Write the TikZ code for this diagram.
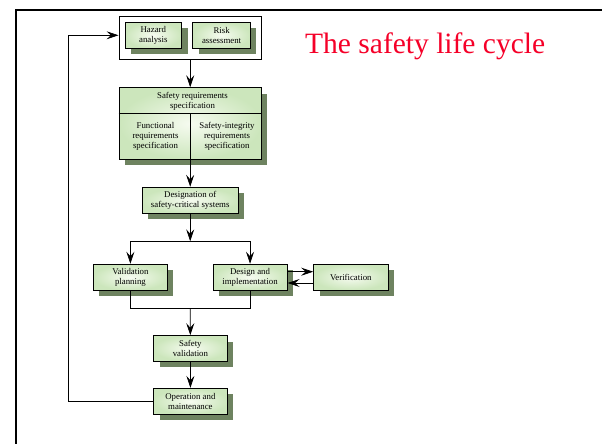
\documentclass[tikz,border=0pt]{standalone}
\usepackage{fontspec}
\setmainfont{Liberation Serif}
\usepackage{xcolor}
\usetikzlibrary{arrows.meta}
\usetikzlibrary{shadows, math}
\definecolor{boxgreen}{RGB}{204,230,188}
\definecolor{boxlight}{RGB}{246,251,240}
\definecolor{shadegreen}{RGB}{110,131,96}
\definecolor{titlered}{RGB}{245,0,40}
\newcommand{\boxfont}{\fontsize{8.8}{10}\selectfont}

\tikzset{
  stage/.style={draw, line width=0.9pt, shading=radial, inner color=boxlight, outer color=boxgreen,
    drop shadow={shadow xshift=6pt, shadow yshift=-6pt, fill=shadegreen, opacity=1},
    align=center, font=\boxfont, inner sep=1pt, minimum height=26pt},
  flow/.style={-{Stealth[length=12pt,width=8pt,inset=4.5pt]}, line width=0.7pt},
  wire/.style={line width=0.7pt},
}

\begin{document}
\begin{tikzpicture}[x=1pt, y=-1pt]
\tikzmath{
\mx=190.2;
\vy=277.2;
}
\useasboundingbox (0,0) rectangle (602,444);
\draw[line width=2.3pt] (16.2,460) -- (16.2,10) -- (620,10);

\node[anchor=base west, inner sep=0, text=titlered, font=\fontsize{29.5}{34}\selectfont] (title) at (305,54) {The safety life cycle};

% analysis group
\node[draw, line width=0.8pt, fill=white, minimum width=142.5pt, minimum height=42.6pt] (grp) at (\mx,38) {};
\node[stage, minimum width=56.6pt] (hazard) at (153.3,35.3) {Hazard\\analysis};
\node[stage, minimum width=57.5pt] (risk) at (221.6,35.3) {Risk\\assessment};

% requirements
\node[stage, minimum width=142.4pt, minimum height=71.6pt] (spec) at (\mx,123.5) {};
\coordinate (specmid) at (\mx,113.7);
\draw[wire] (spec.west |- specmid) -- (spec.east |- specmid);
\draw[wire] (specmid) -- (spec.south);
\node[align=center, font=\boxfont] (spectitle) at (192.5,101) {Safety requirements\\specification};
\node[align=center, font=\boxfont] (func) at (155.5,136.5) {Functional\\requirements\\specification};
\node[align=center, font=\boxfont] (integ) at (227,136.5) {Safety-integrity\\requirements\\specification};

\node[stage, minimum width=96.4pt] (desig) at (\mx,200.3) {Designation of\\safety-critical systems};

\node[stage, minimum width=74.1pt] (valplan) at (130.4,\vy) {Validation\\planning};
\node[stage, minimum width=74.1pt] (design) at (250.05,\vy) {Design and\\implementation};
\node[stage, minimum width=74.4pt] (verif) at (350.8,\vy) {Verification};

\node[stage, minimum width=73.8pt, minimum height=25.3pt] (safeval) at (190.4,348.3) {Safety\\validation};
\node[stage, minimum width=73.8pt] (opmaint) at (190.4,401.3) {Operation and\\maintenance};

\coordinate (split) at (\mx,241.3);
\coordinate (merge) at (\mx,308.3);
\coordinate (back) at (68.3,401.3);

\draw[flow] (grp) -- (spec);
\draw[flow] (spec) -- (desig);
\draw[flow] (desig) -- (split);
\draw[flow] (split) -| (valplan);
\draw[flow] (split) -| (design);
\draw[flow] ([yshift=5.5pt]design.east) -- ([yshift=5.5pt]verif.west);
\draw[flow] ([yshift=-5.8pt]verif.west) -- ([yshift=-5.8pt]design.east);
\draw[wire] (valplan) |- (merge) -| (design);
\draw[flow] (merge) -- (safeval);
\draw[flow] (safeval) -- (opmaint);
\draw[flow] (opmaint) -- (back) |- (grp.west |- hazard);
\end{tikzpicture}
\end{document}
